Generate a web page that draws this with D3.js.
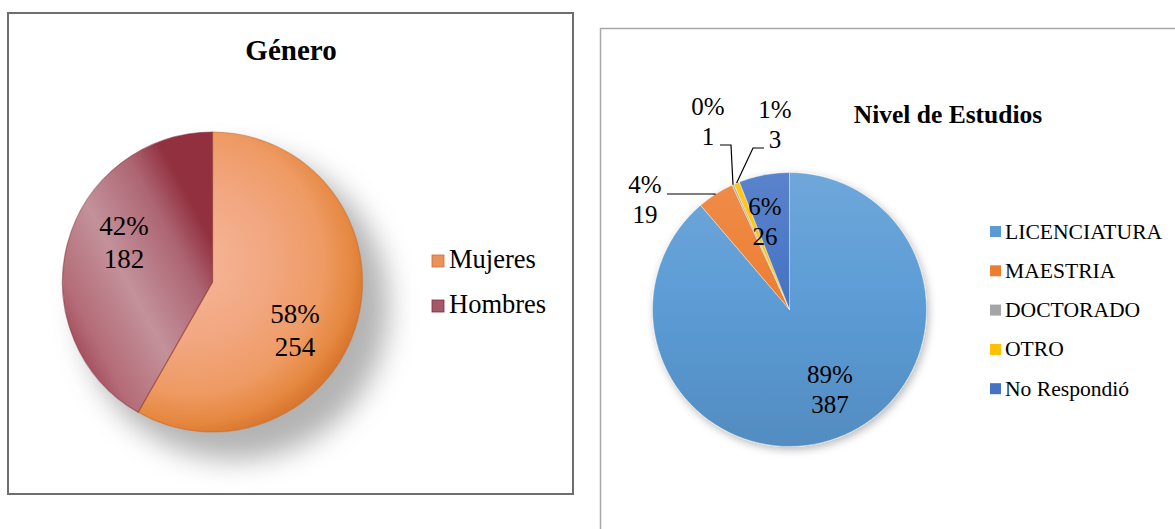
<!DOCTYPE html>
<html><head><meta charset="utf-8">
<script src="https://cdnjs.cloudflare.com/ajax/libs/d3/7.8.5/d3.min.js"></script>
<style>
html,body{margin:0;padding:0;background:#fff;}
svg{display:block;}
</style></head>
<body>
<svg id="c" width="1175" height="529"></svg>
<script>
// ---------- data ----------
const genderTitle = "Género";
const genderCategories = ["Mujeres", "Hombres"];
const genderValues = [254, 182];

const studyTitle = "Nivel de Estudios";
const studyCategories = ["LICENCIATURA", "MAESTRIA", "DOCTORADO", "OTRO", "No Respondió"];
const studyValues = [387, 19, 1, 3, 26];
const studyColors = ["#5b9bd5", "#ed7d31", "#a5a5a5", "#ffc000", "#4472c4"];

// ---------- layout ----------
const FONT = "'Liberation Serif', 'Times New Roman', Times, serif";
const svg = d3.select("#c");
const defs = svg.append("defs");
const txt = (sel) => sel.append("text").attr("font-family", FONT).attr("fill", "#000");

const pctFmt = (v, tot) => Math.round(v / tot * 100) + "%";

// ===== LEFT CHART =====
svg.append("rect").attr("x", 8).attr("y", 13).attr("width", 565).attr("height", 481)
  .attr("fill", "#fff").attr("stroke", "#6e6e6e").attr("stroke-width", 2);

txt(svg).attr("x", 291).attr("y", 60).attr("text-anchor", "middle")
  .attr("font-size", 29).attr("font-weight", "bold").text(genderTitle);

const L = {cx: 212.5, cy: 282, r: 150};

// shadow
const blur = defs.append("filter").attr("id", "blurL").attr("x", "-50%").attr("y", "-50%")
  .attr("width", "200%").attr("height", "200%");
blur.append("feGaussianBlur").attr("stdDeviation", 14);
svg.append("circle").attr("cx", L.cx + 22).attr("cy", L.cy + 24).attr("r", L.r + 4)
  .attr("fill", "#9a9a9a").attr("opacity", 0.75).attr("filter", "url(#blurL)");

// gradients for left slices (group coordinates, origin = pie center)
const gM = defs.append("radialGradient").attr("id", "gMuj").attr("gradientUnits", "userSpaceOnUse")
  .attr("cx", -20).attr("cy", -20).attr("r", L.r + 25);
[[0, "#f5b699"], [0.45, "#f2a780"], [0.75, "#ee9a63"], [0.92, "#e5873f"], [1, "#d9772f"]]
  .forEach(s => gM.append("stop").attr("offset", s[0]).attr("stop-color", s[1]));
const gH = defs.append("linearGradient").attr("id", "gHom").attr("gradientUnits", "userSpaceOnUse")
  .attr("x1", -L.r).attr("y1", 40).attr("x2", 0).attr("y2", -40);
[[0, "#a6505f"], [0.12, "#b46c78"], [0.45, "#c3919a"], [0.8, "#ad6573"], [1, "#92303f"]]
  .forEach(s => gH.append("stop").attr("offset", s[0]).attr("stop-color", s[1]));
const genderFills = ["url(#gMuj)", "url(#gHom)"];

const pieL = d3.pie().sort(null).value(d => d)(genderValues);
const arcL = d3.arc().innerRadius(0).outerRadius(L.r);
const gL = svg.append("g").attr("transform", `translate(${L.cx},${L.cy})`);
gL.selectAll("path.s").data(pieL).join("path").attr("class", "s")
  .attr("d", arcL).attr("fill", (d, i) => genderFills[i]);
gL.selectAll("path.e").data(pieL).join("path").attr("class", "e")
  .attr("d", arcL).attr("fill", "none")
  .attr("stroke", (d, i) => i === 0 ? "#c86a2a" : "#7e2a3a").attr("stroke-opacity", 0.5).attr("stroke-width", 1.2);

const genderTotal = d3.sum(genderValues);
const genderLabelPos = [[295, 323], [124, 235]];
pieL.forEach((d, i) => {
  const [x, y] = genderLabelPos[i];
  const t = txt(svg).attr("text-anchor", "middle").attr("font-size", 27);
  t.append("tspan").attr("x", x).attr("y", y).text(pctFmt(d.data, genderTotal));
  t.append("tspan").attr("x", x).attr("y", y + 33).text(d.data);
});

// legend left
genderCategories.forEach((c, i) => {
  const y = 268 + i * 45;
  svg.append("rect").attr("x", 432).attr("y", y - 13).attr("width", 12).attr("height", 12)
    .attr("fill", i === 0 ? "#e9935a" : "#a45868").attr("stroke", i === 0 ? "#c96f33" : "#7a3040").attr("stroke-width", 0.8);
  txt(svg).attr("x", 449).attr("y", y).attr("font-size", 26.5).text(c);
});

// ===== RIGHT CHART =====
svg.append("rect").attr("x", 600.5).attr("y", 28.5).attr("width", 700).attr("height", 600)
  .attr("fill", "#fff").attr("stroke", "#a8a8a8").attr("stroke-width", 1.5);

txt(svg).attr("x", 948).attr("y", 123).attr("text-anchor", "middle")
  .attr("font-size", 25.5).attr("font-weight", "bold").text(studyTitle);

const R = {cx: 789.5, cy: 309.5, r: 137};
studyColors.forEach((c, i) => {
  const g = defs.append("linearGradient").attr("id", "gS" + i).attr("gradientUnits", "userSpaceOnUse")
    .attr("x1", 0).attr("y1", -R.r).attr("x2", 0).attr("y2", R.r);
  g.append("stop").attr("offset", 0).attr("stop-color", d3.interpolateRgb(c, "#ffffff")(0.12));
  g.append("stop").attr("offset", 0.5).attr("stop-color", c);
  g.append("stop").attr("offset", 1).attr("stop-color", d3.interpolateRgb(c, "#000000")(0.1));
});
const shR = defs.append("filter").attr("id", "shR").attr("x", "-20%").attr("y", "-20%")
  .attr("width", "140%").attr("height", "140%");
shR.append("feDropShadow").attr("dx", 2).attr("dy", 3).attr("stdDeviation", 4)
  .attr("flood-color", "#000").attr("flood-opacity", 0.28);

const pieR = d3.pie().sort(null).value(d => d)(studyValues);
const arcR = d3.arc().innerRadius(0).outerRadius(R.r);
const gR = svg.append("g").attr("transform", `translate(${R.cx},${R.cy})`);
gR.append("g").attr("filter", "url(#shR)").selectAll("path").data(pieR).join("path")
  .attr("d", arcR).attr("fill", (d, i) => `url(#gS${i})`)
  .attr("stroke", "#fff").attr("stroke-width", 0.4);

const studyTotal = d3.sum(studyValues);
const studyLabelPos = [[830, 383], [645, 193], [708, 115], [775, 118], [765, 215]];
const studyLeaders = [null, [667, 194, 712], [720, 145, 731], [764, 148, 753], null];
pieR.forEach((d, i) => {
  const [x, y] = studyLabelPos[i];
  const t = txt(svg).attr("text-anchor", "middle").attr("font-size", 25);
  t.append("tspan").attr("x", x).attr("y", y).text(pctFmt(d.data, studyTotal));
  t.append("tspan").attr("x", x).attr("y", y + 30).text(d.data);
  const ld = studyLeaders[i];
  if (ld) {
    const a = (d.startAngle + d.endAngle) / 2;
    const px = R.cx + R.r * Math.sin(a), py = R.cy - R.r * Math.cos(a);
    svg.append("polyline").attr("points", `${ld[0]},${ld[1]} ${ld[2]},${ld[1]} ${px},${py}`)
      .attr("fill", "none").attr("stroke", "#000").attr("stroke-width", 1.2);
  }
});

// legend right
studyCategories.forEach((c, i) => {
  const cy = 231 + i * 39.3;
  svg.append("rect").attr("x", 990).attr("y", cy - 5).attr("width", 11).attr("height", 11)
    .attr("fill", studyColors[i]);
  txt(svg).attr("x", 1005).attr("y", cy + 7.5).attr("font-size", 21.6).text(c);
});
</script>
</body></html>
